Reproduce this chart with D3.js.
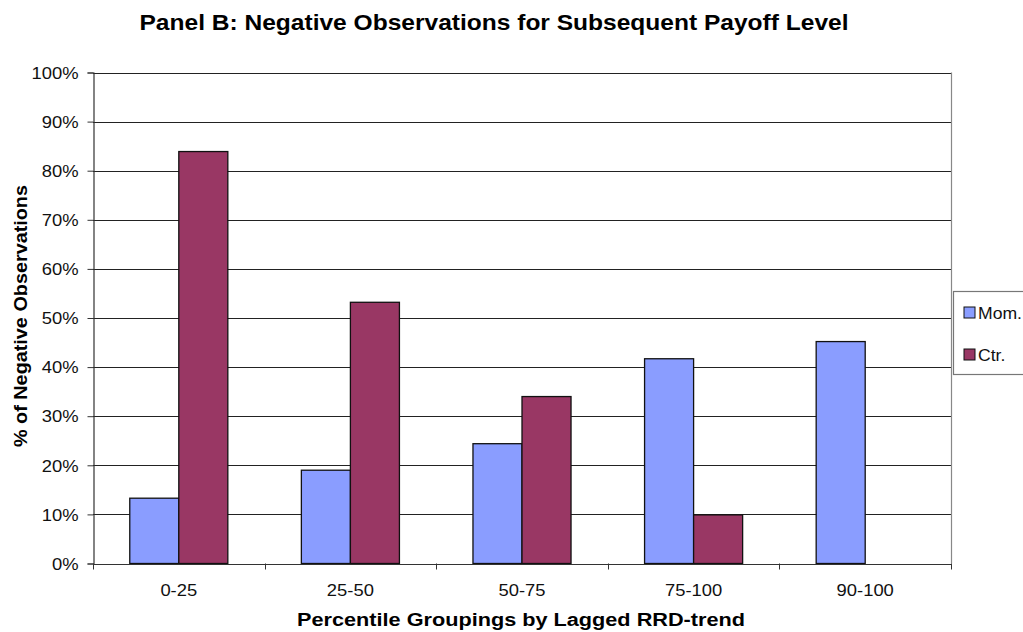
<!DOCTYPE html>
<html>
<head>
<meta charset="utf-8">
<script src="https://cdnjs.cloudflare.com/ajax/libs/d3/7.8.5/d3.min.js"></script>
<style>
  html, body { margin: 0; padding: 0; background: #fff; }
  svg { display: block; font-family: "Liberation Sans", Arial, sans-serif; }
</style>
</head>
<body>
<svg id="chart" width="1023" height="632"></svg>
<script>
// Share of negative observations per percentile grouping
const categories = ["0-25", "25-50", "50-75", "75-100", "90-100"];
const seriesNames = ["Mom.", "Ctr."];
const momValues = [13.3, 19.0, 24.4, 41.7, 45.2];
const ctrValues = [83.9, 53.2, 34.0, 9.9, null];
const yTicks = [0, 10, 20, 30, 40, 50, 60, 70, 80, 90, 100];
const colors = { "Mom.": "#8a9dff", "Ctr.": "#993764" };

const FONT = "Liberation Sans, Arial, sans-serif";
const STRETCH = 1.15; // horizontal widening of label glyphs

const svg = d3.select("#chart");
const m = { left: 93, right: 951, top: 72.5, bottom: 563.5 };

const x = d3.scaleBand().domain(categories).range([m.left, m.right]).padding(0);
const xs = d3.scaleBand().domain(seriesNames)
  .range([0, x.bandwidth()]).paddingInner(0).paddingOuter(0.75);
const y = d3.scaleLinear().domain([0, 100]).range([m.bottom, m.top]);

// Title
svg.append("text")
  .attr("x", 494).attr("y", 30)
  .attr("text-anchor", "middle")
  .attr("font-weight", "bold").attr("font-size", 22.5)
  .attr("textLength", 709).attr("lengthAdjust", "spacingAndGlyphs")
  .text("Panel B: Negative Observations for Subsequent Payoff Level");

// Horizontal gridlines
svg.append("g").selectAll("line").data(yTicks.filter(d => d > 0)).join("line")
  .attr("x1", m.left).attr("x2", m.right)
  .attr("y1", d => Math.round(y(d)) + 0.5).attr("y2", d => Math.round(y(d)) + 0.5)
  .attr("stroke", "#222").attr("stroke-width", 1);

// Right frame line
svg.append("line")
  .attr("x1", m.right + 0.5).attr("x2", m.right + 0.5)
  .attr("y1", m.top).attr("y2", m.bottom)
  .attr("stroke", "#888").attr("stroke-width", 1.2);

// Bars
const rows = categories.map((c, i) => ({ cat: c, vals: [
  { s: "Mom.", v: momValues[i] }, { s: "Ctr.", v: ctrValues[i] }] }));
svg.append("g").selectAll("g").data(rows).join("g")
  .attr("transform", d => `translate(${x(d.cat)},0)`)
  .selectAll("rect").data(d => d.vals.filter(v => v.v != null)).join("rect")
  .attr("x", d => xs(d.s)).attr("width", xs.bandwidth())
  .attr("y", d => y(d.v)).attr("height", d => y(0) - y(d.v))
  .attr("fill", d => colors[d.s])
  .attr("stroke", "#111").attr("stroke-width", 1.3);

// Y axis
const yAxis = d3.axisLeft(y).tickValues(yTicks).tickFormat(d => d + "%").tickSize(6);
const gy = svg.append("g").attr("transform", `translate(${m.left + 0.5},0)`).call(yAxis);
gy.select(".domain").attr("stroke", "#333").attr("stroke-width", 1.2);
gy.selectAll(".tick line").attr("stroke", "#333");
gy.selectAll(".tick text")
  .attr("x", 0).attr("dy", "0.36em")
  .attr("transform", `translate(-15,0) scale(${STRETCH},1)`)
  .attr("font-size", 16).attr("fill", "#111").attr("font-family", FONT);

// X axis
const xAxis = d3.axisBottom(x).tickSize(0);
const gx = svg.append("g").attr("transform", `translate(0,${m.bottom + 0.5})`).call(xAxis);
gx.select(".domain").attr("stroke", "#333").attr("stroke-width", 1.2);
gx.selectAll(".tick text")
  .attr("y", 0).attr("dy", 0)
  .attr("transform", `translate(0,32) scale(${STRETCH},1)`)
  .attr("font-size", 16).attr("fill", "#111").attr("font-family", FONT);
// Category boundary ticks
svg.append("g").selectAll("line")
  .data(categories.map(c => x(c)).concat([m.right])).join("line")
  .attr("x1", d => Math.round(d) + 0.5).attr("x2", d => Math.round(d) + 0.5)
  .attr("y1", m.bottom).attr("y2", m.bottom + 6)
  .attr("stroke", "#333");

// Axis titles
svg.append("text")
  .attr("x", 521).attr("y", 626)
  .attr("text-anchor", "middle")
  .attr("font-weight", "bold").attr("font-size", 18)
  .attr("textLength", 448).attr("lengthAdjust", "spacingAndGlyphs")
  .text("Percentile Groupings by Lagged RRD-trend");

svg.append("text")
  .attr("transform", `translate(27,316) rotate(-90)`)
  .attr("text-anchor", "middle")
  .attr("font-weight", "bold").attr("font-size", 18)
  .attr("textLength", 262).attr("lengthAdjust", "spacingAndGlyphs")
  .text("% of Negative Observations");

// Legend
const lg = svg.append("g");
lg.append("rect")
  .attr("x", 953.5).attr("y", 291.5).attr("width", 80).attr("height", 83)
  .attr("fill", "#fff").attr("stroke", "#777").attr("stroke-width", 1.2);
const items = lg.selectAll("g.item").data(seriesNames).join("g")
  .attr("transform", (d, i) => `translate(964,${313 + i * 42})`);
items.append("rect")
  .attr("x", 0).attr("y", -6).attr("width", 11).attr("height", 11)
  .attr("fill", d => colors[d]).attr("stroke", "#111").attr("stroke-width", 1);
items.append("text")
  .attr("transform", `translate(14,6) scale(1.1,1)`)
  .attr("font-size", 16).attr("fill", "#111")
  .text(d => d);
</script>
</body>
</html>
